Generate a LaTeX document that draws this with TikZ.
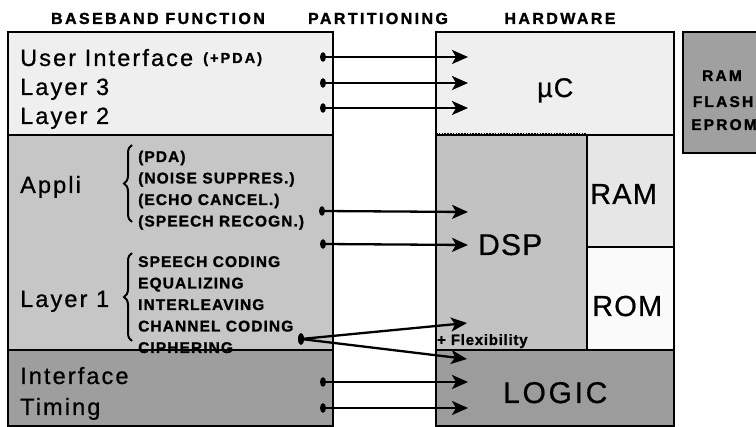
\documentclass[tikz,border=0pt]{standalone}
\usepackage{fontspec}
\setmainfont{Liberation Sans}
\newfontfamily\labfont{Liberation Sans}[LetterSpace=9,FakeBold=0.8]
\newfontfamily\headfont{Liberation Sans}[LetterSpace=15,BoldFeatures={FakeBold=1.5}]
\newfontfamily\itemfont{Liberation Sans}[LetterSpace=7,BoldFeatures={FakeBold=1.2}]
\newfontfamily\memfont{Liberation Sans}[LetterSpace=14,BoldFeatures={FakeBold=1.5}]
\newfontfamily\pdafont{Liberation Sans}[LetterSpace=14,BoldFeatures={FakeBold=1.2}]
\newfontfamily\hwfont{Liberation Sans}[LetterSpace=4,FakeBold=0.6]
\newfontfamily\logfont{Liberation Sans}[LetterSpace=9,FakeBold=0.6]
\newfontfamily\flexfont{Liberation Sans}[LetterSpace=5,BoldFeatures={FakeBold=1.2}]
\usetikzlibrary{arrows.meta,decorations.pathreplacing}
\definecolor{cTop}{HTML}{EFEFEF}
\definecolor{cMid}{HTML}{C6C6C6}
\definecolor{cBot}{HTML}{9E9E9E}
\definecolor{cUC}{HTML}{EFEFEF}
\definecolor{cDSP}{HTML}{C2C2C2}
\definecolor{cRAM}{HTML}{E6E6E6}
\definecolor{cROM}{HTML}{FAFAFA}
\definecolor{cLOG}{HTML}{9C9C9C}
\definecolor{cMEM}{HTML}{A0A0A0}
\tikzset{
  box/.style={draw, line width=2pt, inner sep=0pt, outer sep=0pt, anchor=north west},
  lab/.style={anchor=base west, inner sep=0pt, font=\labfont\fontsize{23.5}{28}\selectfont},
  itm/.style={anchor=base west, inner sep=0pt, font=\itemfont\bfseries\fontsize{15.5}{20}\selectfont},
  head/.style={anchor=base, inner sep=0pt, font=\headfont\bfseries\fontsize{16}{20}\selectfont},
  mem/.style={anchor=base, inner sep=0pt, font=\memfont\bfseries\fontsize{15.5}{18}\selectfont},
  hw/.style={anchor=base west, inner sep=0pt, font=\hwfont\fontsize{29}{34}\selectfont},
  arr/.style={line width=2.3pt, -{Stealth[length=16pt,width=14pt,inset=4pt]}},
  brc/.style={decorate, decoration={brace, amplitude=8pt}, line width=2pt},
  dot/.style={fill=black}
}
\begin{document}
\begin{tikzpicture}[x=1pt,y=-1pt]
\useasboundingbox (0,0) rectangle (756,427);
\fill[white] (0,0) rectangle (756,427);

% headings
\node[head] (hBB) at (158,24) {BASEBAND FUNCTION};
\node[head] (hPA) at (378,24) {PARTITIONING};
\node[head] (hHW) at (560,24) {HARDWARE};

% left column
\node[box, fill=cTop, minimum width=325pt, minimum height=103pt] (bbtop) at (8,32) {};
\node[box, fill=cMid, minimum width=325pt, minimum height=215pt] (bbmid) at (8,135) {};
\node[box, fill=cBot, minimum width=325pt, minimum height=76pt] (bbbot) at (8,350) {};

% hardware column
\node[box, fill=cUC, minimum width=238pt, minimum height=103pt] (uc) at (436,32) {};
\node[box, fill=cDSP, minimum width=151pt, minimum height=215pt] (dsp) at (436,135) {};
\node[box, fill=cRAM, minimum width=87pt, minimum height=112pt] (ram) at (587,135) {};
\node[box, fill=cROM, minimum width=87pt, minimum height=103pt] (rom) at (587,247) {};
\node[box, fill=cLOG, minimum width=238pt, minimum height=76pt] (logic) at (436,350) {};
\node[box, fill=cMEM, minimum width=100pt, minimum height=121pt] (memb) at (683,32) {};

% dotted border between uC and DSP
\draw[cUC, line width=2.5pt] (dsp.north west) -- (dsp.north east);
\draw[line width=1.2pt] (dsp.north west) -- (dsp.north east);
\draw[line width=3pt, dash pattern=on 1.5pt off 1.3pt] (dsp.north west) -- (dsp.north east);
\draw[line width=2pt] (dsp.north east) -- (dsp.south east);

% left texts
\node[lab] (tUI) at (20,66) {User Interface};
\node[anchor=base west, inner sep=0pt, font=\pdafont\bfseries\fontsize{14.5}{16}\selectfont] (tPDA) at (203,63) {(+PDA)};
\node[lab] (tL3) at (20,95) {Layer 3};
\node[lab] (tL2) at (20,124) {Layer 2};
\node[lab] (tAp) at (20,193) {Appli};
\node[lab] (tL1) at (20,307) {Layer 1};
\node[lab] (tIf) at (20,384) {Interface};
\node[lab] (tTi) at (20,415) {Timing};

% braces
\draw[brc] (132,222) -- (132,145);
\draw[brc] (132,341) -- (132,253);

% items
\node[itm] (i1) at (138,162) {(PDA)};
\node[itm] (i2) at (138,183.5) {(NOISE SUPPRES.)};
\node[itm] (i3) at (138,205) {(ECHO CANCEL.)};
\node[itm] (i4) at (138,226.5) {(SPEECH RECOGN.)};
\node[itm] (j1) at (138,267) {SPEECH CODING};
\node[itm] (j2) at (138,288.5) {EQUALIZING};
\node[itm] (j3) at (138,310) {INTERLEAVING};
\node[itm] (j4) at (138,331.5) {CHANNEL CODING};
\node[itm] (j5) at (138,353) {CIPHERING};

% hardware texts
\node[hw, font=\hwfont\fontsize{27}{32}\selectfont] (tUC) at (537,97) {µC};
\node[hw, font=\hwfont\fontsize{30}{34}\selectfont] (tDSP) at (478,255) {DSP};
\node[hw] (tRAM) at (590,204) {RAM};
\node[hw] (tROM) at (592,316) {ROM};
\node[hw, font=\logfont\fontsize{30}{34}\selectfont] (tLOG) at (503,403) {LOGIC};
\node[mem] (m1) at (722,81) {RAM};
\node[mem] (m2) at (723,107) {FLASH};
\node[mem] (m3) at (724,130) {EPROM};
\node[anchor=base west, inner sep=0pt, font=\flexfont\bfseries\fontsize{15}{18}\selectfont] (tFlex) at (437,345) {+ Flexibility};

% connector end points
\coordinate (d1) at (323,57);  \coordinate (t1) at (468,57);
\coordinate (d2) at (323,83);  \coordinate (t2) at (468,83);
\coordinate (d3) at (323,108); \coordinate (t3) at (468,108);
\coordinate (d4) at (322,211); \coordinate (t4) at (468,212);
\coordinate (d5) at (323,244); \coordinate (t5) at (468,245);
\coordinate (f0) at (301,339); \coordinate (f1) at (467,323); \coordinate (f2) at (467,359);
\coordinate (d6) at (323,382); \coordinate (t6) at (468,382);
\coordinate (d7) at (323,408); \coordinate (t7) at (468,408);

\foreach \a/\b in {d1/t1,d2/t2,d3/t3,d4/t4,d5/t5,d6/t6,d7/t7}{
  \draw[arr] (\a) -- (\b);
  \fill[dot] (\a) ellipse [x radius=3pt, y radius=4.8pt];
}
\draw[arr] (f0) -- (f1);
\draw[arr] (f0) -- (f2);
\fill[dot] (f0) ellipse [x radius=3pt, y radius=6pt];
\end{tikzpicture}
\end{document}
